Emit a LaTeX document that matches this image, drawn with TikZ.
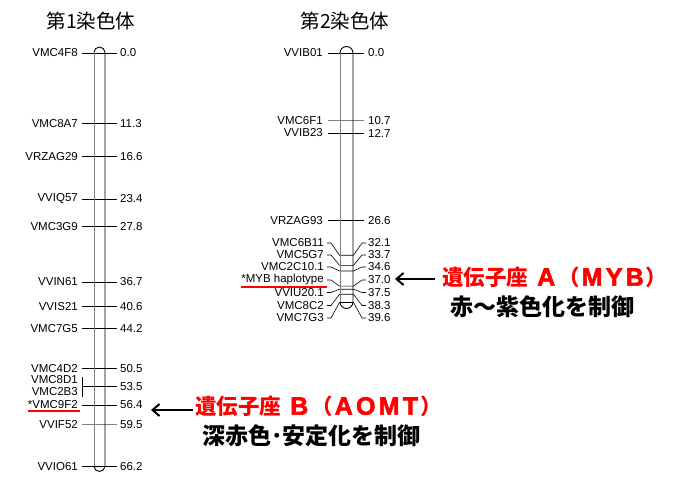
\documentclass[tikz,border=0pt]{standalone}
\usepackage{fontspec}
\setmainfont{Liberation Sans}
\newfontfamily\cjk{Noto Sans CJK JP}
\newfontfamily\latb[LetterSpace=13,FakeBold=2.5]{Liberation Sans}
\newcommand\lt[1]{{\latb\bfseries\fontsize{25}{25}\selectfont #1}}
\usetikzlibrary{arrows.meta,calc}
\begin{document}
\begin{tikzpicture}[x=1pt,y=-1pt,
  lbl/.style={font=\fontsize{11.5}{13}\selectfont, inner sep=0pt},
  tk/.style={line width=0.7pt},
  ttl/.style={font=\cjk\fontsize{19.5}{22}\selectfont, inner sep=0pt},
  redtxt/.style={font=\cjk\bfseries\fontsize{21.5}{24}\selectfont, text=red, inner sep=0pt, anchor=west},
  blktxt/.style={font=\cjk\bfseries\fontsize{23}{26}\selectfont, inner sep=0pt, anchor=west},
  arr/.style={line width=2pt, -{Straight Barb[length=7pt,width=12pt,line width=2pt]}},
  uline/.style={red, line width=1.6pt}]
\useasboundingbox (0,0) rectangle (687,477);

% titles
\node[ttl] (t1) at (91,21) {第1染色体};
\node[ttl] (t2) at (345,21) {第2染色体};

% ---------- chromosome 1 ----------
\foreach \i/\nm/\cm in {a/VMC4F8/0.0, b/VMC8A7/11.3, c/VRZAG29/16.6, d/VVIQ57/23.4,
  e/VMC3G9/27.8, f/VVIN61/36.7, g/VVIS21/40.6, h/VMC7G5/44.2, i/VMC4D2/50.5,
  k/{*VMC9F2}/56.4, m/VVIO61/66.2} {
  \coordinate (c1\i l) at (82,{53+6.24*\cm});
  \coordinate (c1\i r) at (117,{53+6.24*\cm});
  \draw[tk] (c1\i l) -- (c1\i r);
  \node[lbl, anchor=east] (n1\i) at ([xshift=-4pt]c1\i l) {\nm};
  \node[lbl, anchor=west] (v1\i) at ([xshift=3pt]c1\i r) {\cm};
}
% VVIF52 (grey tick)
\coordinate (c1nl) at (82,{53+6.24*59.5});
\coordinate (c1nr) at (117,{53+6.24*59.5});
\draw[tk, gray] (c1nl) -- (c1nr);
\node[lbl, anchor=east] (n1n) at ([xshift=-4pt]c1nl) {VVIF52};
\node[lbl, anchor=west] (v1n) at ([xshift=3pt]c1nr) {59.5};
% VMC8D1 / VMC2B3 pair
\coordinate (c1jl) at (82,{53+6.24*53.5});
\coordinate (c1jr) at (117,{53+6.24*53.5});
\draw[tk] (c1jl) -- (c1jr);
\coordinate (br1) at (82,377);
\coordinate (br2) at (82,397);
\draw[tk] (br1) -- (br2);
\node[lbl, anchor=east] (n1j1) at (78,380) {VMC8D1};
\node[lbl, anchor=east] (n1j2) at (78,392) {VMC2B3};
\node[lbl, anchor=west] (v1j) at ([xshift=3pt]c1jr) {53.5};
% underline
\draw[uline] ([yshift=-2pt]n1k.south west) -- ([yshift=-2pt,xshift=2pt]n1k.south east);

% bar 1
\draw[line width=0.9pt] (94,52.5) arc[start angle=180,end angle=0,radius=5.5pt]
   -- (105,466) arc[start angle=0,end angle=-180,radius=5.5pt];
\draw[line width=0.9pt, gray] (94,466) -- (94,52.5);

% ---------- chromosome 2 ----------
\foreach \i/\nm/\cm/\col in {a/VVIB01/0.0/black, b/VMC6F1/10.7/gray, c/VVIB23/12.7/black, d/VRZAG93/26.6/black} {
  \coordinate (c2\i l) at (328,{53+6.3*\cm});
  \coordinate (c2\i r) at (364,{53+6.3*\cm});
  \draw[tk,\col] (c2\i l) -- (c2\i r);
  \node[lbl, anchor=east] (n2\i) at ([xshift=-5pt]c2\i l) {\nm};
  \node[lbl, anchor=west] (v2\i) at ([xshift=4pt]c2\i r) {\cm};
}
\foreach \i/\nm/\cm/\ly in {p/VMC6B11/32.1/243, q/VMC5G7/33.7/255, r/VMC2C10.1/34.6/267,
  s/{*MYB haplotype}/37.0/280, t/VVIU20.1/37.5/292.5, u/VMC8C2/38.3/305.5, v/VMC7G3/39.6/318} {
  \coordinate (c2\i a) at (327,\ly);
  \coordinate (c2\i b) at (331,\ly);
  \coordinate (c2\i c) at (339.5,{53+6.3*\cm});
  \coordinate (c2\i d) at (353.5,{53+6.3*\cm});
  \coordinate (c2\i e) at (362,\ly);
  \coordinate (c2\i f) at (366,\ly);
  \draw[line width=0.6pt] (c2\i a) -- (c2\i b) -- (c2\i c) -- (c2\i d) -- (c2\i e) -- (c2\i f);
  \node[lbl, anchor=east] (n2\i) at ([xshift=-3pt]c2\i a) {\nm};
  \node[lbl, anchor=west] (v2\i) at ([xshift=2pt]c2\i f) {\cm};
}
\draw[uline] ([yshift=-1.5pt]n2s.south west) -- ([yshift=-1.5pt,xshift=3pt]n2s.south east);

% bar 2
\draw[line width=0.9pt] (340,53) arc[start angle=180,end angle=0,radius=6.5pt]
   -- (353,302) arc[start angle=0,end angle=-180,radius=6.5pt];
\draw[line width=0.9pt, gray] (340,302) -- (340,53);

% ---------- annotations ----------
\node[redtxt] (ra) at (442,277.5) {遺伝子座\hspace{9pt}\lt{A}\hspace{3pt}（\hspace{2pt}\lt{MYB}\hspace{2pt}）};
\node[blktxt] (ba) at (450,306.5) {赤～紫色化を制御};
\coordinate (aat) at (435,279);
\coordinate (aah) at (395,279);
\draw[arr] (aat) -- (aah);

\node[redtxt] (rb) at (195,406.5) {遺伝子座\hspace{9pt}\lt{B}\hspace{3pt}（\hspace{2pt}\lt{AOMT}\hspace{2pt}）};
\node[blktxt] (bb) at (202,436) {深赤色･安定化を制御};
\coordinate (abt) at (193,410);
\coordinate (abh) at (151,410);
\draw[arr] (abt) -- (abh);
\end{tikzpicture}
\end{document}
